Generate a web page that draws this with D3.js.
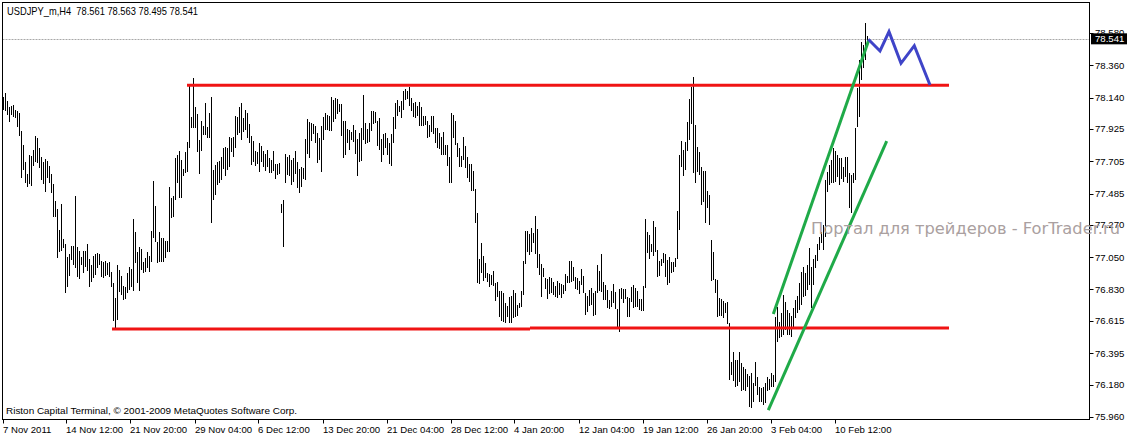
<!DOCTYPE html>
<html>
<head>
<meta charset="utf-8">
<script src="https://cdn.jsdelivr.net/npm/d3@7"></script>
<style>
html,body{margin:0;padding:0;background:#fff;}
svg{display:block;}
</style>
</head>
<body>
<svg id="chart" width="1127" height="436"></svg>
<script>
// ---- DATA (USDJPY_m, H4 bars: high / low) ----
const highs = [78.144,78.171,78.117,78.076,78.082,78.089,78.055,78.048,78.035,77.912,
77.816,77.700,77.618,77.748,77.741,77.782,77.878,77.864,77.796,77.734,
77.700,77.721,77.707,77.673,77.618,77.550,77.434,77.379,77.236,77.413,
77.175,77.140,77.052,77.072,77.127,77.127,77.468,77.120,77.093,77.052,
77.093,77.093,77.140,77.038,76.997,77.059,77.072,77.079,77.072,77.024,
77.018,77.024,77.011,77.018,76.949,76.874,76.772,76.997,76.963,76.922,
76.854,76.847,76.943,76.984,76.970,77.311,77.222,77.086,77.120,77.106,
77.018,77.045,77.086,77.059,77.229,77.571,77.400,77.154,77.222,77.181,
77.181,77.161,77.161,77.530,77.455,77.468,77.728,77.748,77.775,77.714,
77.652,77.768,77.837,78.226,78.007,78.274,78.076,78.028,77.850,77.980,
77.946,78.103,77.939,78.035,78.144,77.646,77.680,77.700,77.707,77.734,
77.796,77.803,77.796,77.871,77.864,77.871,78.014,78.007,78.076,78.103,
78.000,78.055,78.035,77.960,77.878,77.844,77.775,77.768,77.830,77.809,
77.775,77.755,77.782,77.728,77.714,77.775,77.687,77.687,77.693,77.413,
77.441,77.755,77.734,77.748,77.714,77.728,77.775,77.700,77.652,77.666,
77.659,77.857,77.994,77.973,77.966,77.960,77.946,77.898,77.864,77.946,
78.007,78.035,78.021,78.014,78.144,78.123,78.137,78.130,78.096,78.096,
77.980,77.980,77.925,77.919,77.905,77.953,77.919,77.857,77.898,77.932,
78.158,77.966,77.925,77.966,78.048,78.048,78.042,77.980,78.000,77.857,
77.891,77.898,77.864,77.830,77.891,78.007,78.103,78.123,78.082,78.117,
78.185,78.199,78.185,78.212,78.137,78.103,78.110,78.082,78.110,78.076,
78.014,78.014,77.980,77.953,78.014,78.014,77.932,77.932,77.898,77.871,
77.905,77.816,77.816,77.734,78.035,78.021,77.980,77.830,77.796,77.741,
77.871,77.809,77.734,77.687,77.687,77.639,77.516,77.352,77.038,77.147,
77.059,77.011,76.943,76.936,76.929,76.956,76.874,76.881,76.820,76.820,
76.806,76.738,76.717,76.779,76.786,76.827,76.806,76.724,76.738,76.820,
77.024,77.229,77.229,77.209,77.250,77.216,77.332,77.243,77.072,77.004,
76.977,76.908,76.902,76.915,76.908,76.881,76.854,76.888,76.874,76.867,
76.861,76.936,76.922,77.024,77.024,76.984,76.915,76.908,76.888,76.970,
76.922,76.806,76.786,76.827,76.840,76.806,76.820,76.997,76.956,77.072,
76.881,76.861,76.827,76.758,76.820,76.867,76.813,76.697,76.833,76.840,
76.833,76.833,76.779,76.772,76.847,76.861,76.840,76.820,76.765,76.765,
76.854,77.311,77.222,77.202,77.140,77.297,77.256,77.100,77.024,77.038,
77.079,77.072,77.031,77.052,77.018,77.018,77.045,77.366,77.748,77.844,
77.782,77.837,77.973,78.130,78.212,78.280,77.953,77.803,77.768,77.666,
77.639,77.639,77.502,77.475,77.168,77.086,76.902,76.895,76.772,76.765,
76.751,76.738,76.745,76.601,76.335,76.403,76.349,76.349,76.403,76.328,
76.301,76.287,76.253,76.239,76.260,76.192,76.335,76.233,76.164,76.158,
76.164,76.192,76.233,76.219,76.260,76.246,76.642,76.710,76.608,76.670,
76.792,76.745,76.690,76.670,76.649,76.704,76.758,76.786,76.874,76.949,
76.984,76.943,76.997,77.113,76.984,77.038,77.065,77.140,77.188,77.222,
77.270,77.577,77.632,77.680,77.714,77.796,77.775,77.748,77.728,77.728,
77.666,77.734,77.734,77.625,77.611,77.625,77.932,78.205,78.396,78.519,
78.499,78.649,78.563];

const lows = [78.055,78.048,78.021,77.973,78.021,78.007,78.000,77.939,77.878,77.591,
77.646,77.557,77.530,77.550,77.536,77.673,77.700,77.693,77.659,77.577,
77.550,77.495,77.591,77.557,77.489,77.325,77.325,77.045,77.086,77.093,
77.113,76.806,76.847,76.922,77.031,76.997,76.977,76.915,76.902,76.997,
76.943,76.984,76.956,76.847,76.881,76.908,76.929,76.977,76.997,76.915,
76.908,76.922,76.929,76.915,76.847,76.615,76.567,76.622,76.813,76.792,
76.758,76.765,76.806,76.827,76.847,76.820,77.011,76.874,76.820,76.963,
76.943,76.949,76.977,76.949,77.018,77.181,77.154,77.011,77.018,77.018,
77.018,77.045,77.086,77.086,77.318,77.325,77.441,77.557,77.455,77.455,
77.605,77.625,77.632,77.796,77.932,77.932,77.932,77.768,77.618,77.775,
77.885,77.885,77.864,77.864,77.284,77.441,77.475,77.543,77.557,77.577,
77.652,77.605,77.646,77.666,77.768,77.734,77.796,77.885,77.898,77.850,
77.905,77.919,77.864,77.830,77.680,77.700,77.673,77.687,77.632,77.700,
77.666,77.639,77.666,77.625,77.625,77.639,77.584,77.611,77.618,77.352,
77.120,77.557,77.611,77.605,77.543,77.564,77.618,77.523,77.489,77.530,
77.584,77.577,77.755,77.728,77.844,77.891,77.830,77.693,77.714,77.632,
77.850,77.919,77.919,77.912,77.912,77.973,77.994,78.028,78.042,77.878,
77.728,77.748,77.830,77.782,77.850,77.837,77.755,77.605,77.700,77.707,
77.850,77.823,77.830,77.837,77.912,77.960,77.966,77.809,77.782,77.700,
77.748,77.796,77.748,77.687,77.673,77.830,77.925,78.014,78.042,78.000,
78.055,78.123,78.130,78.082,78.048,78.007,78.000,78.014,77.946,77.946,
77.946,77.953,77.864,77.871,77.905,77.891,77.830,77.796,77.789,77.748,
77.748,77.748,77.673,77.557,77.557,77.864,77.816,77.734,77.666,77.666,
77.714,77.659,77.591,77.564,77.502,77.502,77.284,76.874,76.867,76.943,
76.888,76.908,76.881,76.847,76.861,76.854,76.751,76.779,76.642,76.615,
76.608,76.601,76.642,76.601,76.601,76.635,76.642,76.649,76.704,76.710,
76.792,77.004,77.086,77.065,77.086,77.147,77.072,76.977,76.929,76.779,
76.915,76.833,76.765,76.799,76.806,76.792,76.779,76.772,76.792,76.772,
76.799,76.820,76.874,76.874,76.881,76.888,76.833,76.827,76.799,76.861,
76.806,76.656,76.676,76.717,76.724,76.649,76.656,76.806,76.820,76.813,
76.758,76.758,76.704,76.697,76.710,76.738,76.697,76.567,76.540,76.765,
76.738,76.765,76.642,76.642,76.745,76.704,76.710,76.710,76.690,76.683,
76.683,76.840,77.079,77.038,77.086,77.059,77.086,76.915,76.922,76.990,
77.011,76.915,76.861,76.874,76.943,76.949,76.984,77.038,77.236,77.666,
77.605,77.646,77.775,77.850,77.960,77.625,77.557,77.632,77.611,77.407,
77.427,77.284,77.386,77.270,76.888,76.895,76.806,76.642,76.649,76.649,
76.635,76.670,76.594,76.212,76.246,76.205,76.164,76.171,76.199,76.137,
76.144,76.137,76.164,76.028,76.021,76.062,76.171,76.110,76.062,76.062,
76.042,76.055,76.137,76.144,76.164,76.164,76.199,76.472,76.499,76.506,
76.519,76.554,76.519,76.519,76.506,76.567,76.635,76.670,76.690,76.724,
76.779,76.786,76.827,76.861,76.704,76.861,76.977,77.024,77.100,77.147,
77.100,77.188,77.495,77.543,77.557,77.557,77.564,77.598,77.543,77.584,
77.564,77.598,77.557,77.386,77.352,77.557,77.577,77.939,78.007,78.260,
78.342,78.396,78.495];

const dateLabels = ["7 Nov 2011","14 Nov 12:00","21 Nov 20:00","29 Nov 04:00","6 Dec 12:00",
  "13 Dec 20:00","21 Dec 04:00","28 Dec 12:00","4 Jan 20:00","12 Jan 04:00",
  "19 Jan 12:00","26 Jan 20:00","3 Feb 04:00","10 Feb 12:00"];
const dateLabelStep = 32; // bars between time labels

const priceTicks = ["78.580","78.360","78.140","77.925","77.705","77.485","77.270",
  "77.050","76.830","76.615","76.395","76.180","75.960"];

const bidPrice = 78.541;
const titleText = "USDJPY_m,H4\u00a0\u00a078.561 78.563 78.495 78.541";

// drawn objects (bar index, price)
const resistance = [{i: 91.75, p: 78.224}, {i: 472.75, p: 78.224}];
const support1 = [{i: 54.25, p: 76.560}, {i: 263.25, p: 76.560}];
const support2 = [{i: 263.25, p: 76.567}, {i: 472.75, p: 76.567}];
const channelUpper = [{i: 384.9, p: 76.663}, {i: 432.6, p: 78.531}];
const channelLower = [{i: 382.4, p: 76.007}, {i: 441.6, p: 77.842}];
const forecast = [{i: 432.4, p: 78.538}, {i: 438.25, p: 78.458}, {i: 442.75, p: 78.590},
  {i: 448.75, p: 78.374}, {i: 455.4, p: 78.494}, {i: 463.25, p: 78.226}];

// ---- DRAW ----
const svg = d3.select("#chart");
const plot = {left: 2.5, top: 2.5, right: 1089.5, bottom: 419.5};

const x = d3.scaleLinear().domain([0, 542]).range([3.5, 1087.5]);
const y = d3.scaleLinear().domain([75.96, 78.806]).range([416.94, 0]);

const font = "'Liberation Sans', Arial, sans-serif";

svg.append("rect").attr("width", 1127).attr("height", 436).attr("fill", "#fff");

const g = svg.append("g");
svg.append("clipPath").attr("id", "clipPlot")
  .append("rect").attr("x", plot.left).attr("y", plot.top)
  .attr("width", plot.right - plot.left).attr("height", plot.bottom - plot.top);

const inner = g.append("g").attr("clip-path", "url(#clipPlot)");

// bid line
inner.append("line")
  .attr("x1", plot.left).attr("x2", plot.right)
  .attr("y1", Math.round(y(bidPrice)) + 0.5).attr("y2", Math.round(y(bidPrice)) + 0.5)
  .attr("stroke", "#a8a8a8").attr("stroke-width", 1).attr("stroke-dasharray", "2,1");

// bars
inner.append("g").selectAll("line").data(highs).join("line")
  .attr("x1", (d, i) => x(i)).attr("x2", (d, i) => x(i))
  .attr("y1", d => y(d)).attr("y2", (d, i) => y(lows[i]))
  .attr("stroke", "#000").attr("stroke-width", 1)
  .attr("shape-rendering", "crispEdges");

const line = d3.line().x(d => x(d.i)).y(d => y(d.p));

[resistance, support1, support2].forEach(seg => {
  inner.append("path").attr("d", line(seg)).attr("fill", "none")
    .attr("stroke", "#f01414").attr("stroke-width", 3);
});
[channelUpper, channelLower].forEach(seg => {
  inner.append("path").attr("d", line(seg)).attr("fill", "none")
    .attr("stroke", "#1faa48").attr("stroke-width", 3);
});
inner.append("path").attr("d", line(forecast)).attr("fill", "none")
  .attr("stroke", "#3f44c8").attr("stroke-width", 3).attr("stroke-linejoin", "miter");

// frame
g.append("rect").attr("x", plot.left).attr("y", plot.top)
  .attr("width", plot.right - plot.left).attr("height", plot.bottom - plot.top)
  .attr("fill", "none").attr("stroke", "#000").attr("stroke-width", 1);

// right price axis
const pa = g.append("g");
priceTicks.forEach(t => {
  const yy = Math.round(y(+t)) + 0.5;
  pa.append("line").attr("x1", plot.right).attr("x2", plot.right + 4)
    .attr("y1", yy).attr("y2", yy).attr("stroke", "#000");
  pa.append("text").attr("x", 1095).attr("y", y(+t)).attr("dy", "0.35em")
    .attr("font-family", font).attr("font-size", "9.6px").attr("fill", "#000").text(t);
});

// watermark (drawn over the axis labels, as in the terminal)
g.append("text").attr("x", 811).attr("y", 233.5)
  .attr("font-family", "'DejaVu Sans', sans-serif").attr("font-size", "16px")
  .attr("textLength", 309).attr("lengthAdjust", "spacingAndGlyphs")
  .attr("fill", "#aaa0a0").text("Портал для трейдеров - ForTrader.ru");

// bid label box
const by = y(bidPrice);
pa.append("rect").attr("x", 1091).attr("y", by - 5.5).attr("width", 36).attr("height", 11).attr("fill", "#000");
pa.append("text").attr("x", 1095).attr("y", by).attr("dy", "0.35em")
  .attr("font-family", font).attr("font-size", "9.6px").attr("fill", "#fff").text(bidPrice.toFixed(3));

// bottom time axis
const ta = g.append("g");
dateLabels.forEach((lab, k) => {
  const xx = Math.round(x(k * dateLabelStep)) - 0.5;
  ta.append("line").attr("x1", xx).attr("x2", xx).attr("y1", plot.bottom).attr("y2", plot.bottom + 4)
    .attr("stroke", "#000");
  ta.append("text").attr("x", xx - 0.5).attr("y", 432.5)
    .attr("font-family", font).attr("font-size", "9.6px").attr("fill", "#000").text(lab);
});

// texts
g.append("text").attr("x", 7).attr("y", 14.5).attr("font-family", font).attr("font-size", "10.6px")
  .attr("textLength", 191).attr("lengthAdjust", "spacingAndGlyphs")
  .attr("fill", "#000").text(titleText);
g.append("text").attr("x", 6).attr("y", 414).attr("font-family", font).attr("font-size", "9.8px")
  .attr("textLength", 291).attr("lengthAdjust", "spacingAndGlyphs")
  .attr("fill", "#000").text("Riston Capital Terminal, © 2001-2009 MetaQuotes Software Corp.");
</script>
</body>
</html>
